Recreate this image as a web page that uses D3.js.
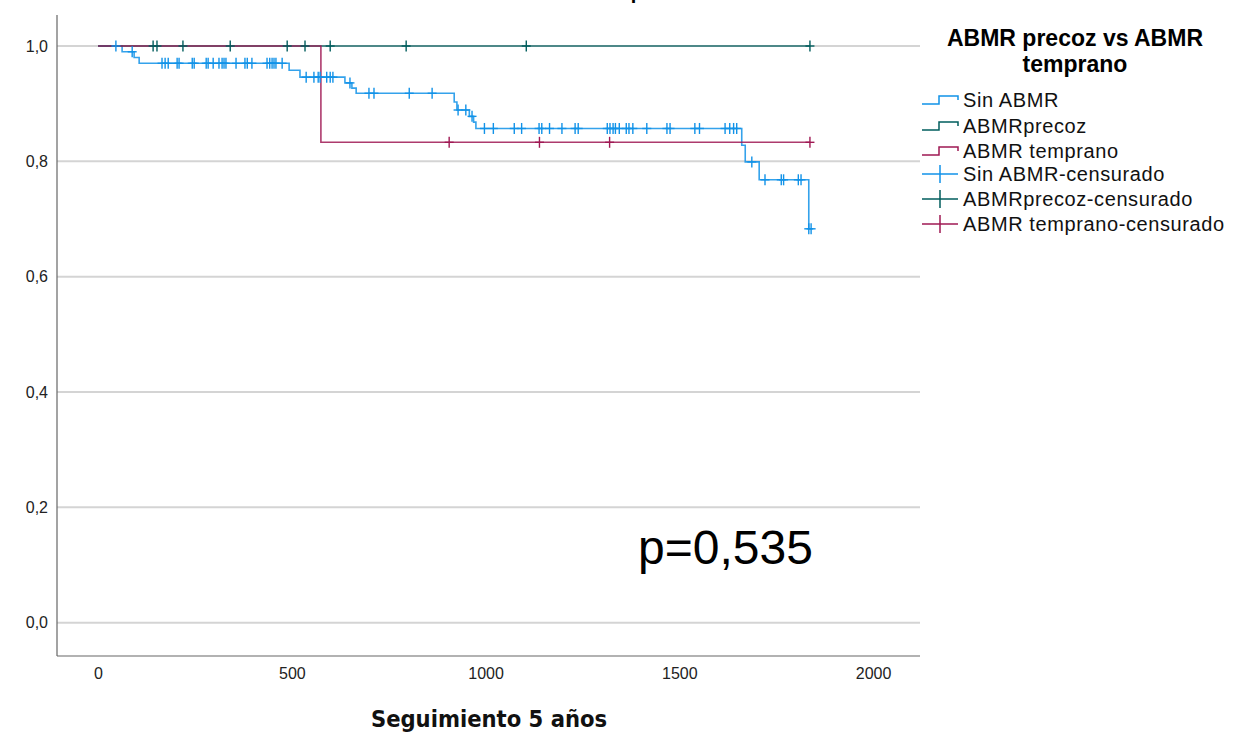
<!DOCTYPE html>
<html>
<head>
<meta charset="utf-8">
<script src="https://cdn.jsdelivr.net/npm/d3@7"></script>
<style>
  html, body { margin: 0; padding: 0; background: #fff; }
  svg { display: block; }
</style>
</head>
<body>
<svg id="chart" width="1253" height="735"></svg>
<script>
// ---------- DATA ----------
const groupNames = ["Sin ABMR", "ABMRprecoz", "ABMR temprano"];
const legendLabels = ["Sin ABMR", "ABMRprecoz", "ABMR temprano",
  "Sin ABMR-censurado", "ABMRprecoz-censurado", "ABMR temprano-censurado"];
const xTicks = [0, 500, 1000, 1500, 2000];
const yTicks = [0, 0.2, 0.4, 0.6, 0.8, 1.0];

// Sin ABMR
const sinEventDays = [62, 93, 106, 493, 521, 637, 655, 666, 919, 926, 958, 969, 975, 1661, 1670, 1706, 1834];
const sinEventSurv = [0.990, 0.980, 0.970, 0.958, 0.946, 0.936, 0.927, 0.918, 0.903, 0.889, 0.878, 0.868, 0.857, 0.828, 0.799, 0.768, 0.683];
const sinCensorDays = [46, 88, 165, 173, 181, 204, 209, 243, 248, 279, 284, 297, 312, 320, 325, 330, 356, 379, 385, 397,
  436, 443, 449, 454, 459, 475, 537, 557, 568, 573, 590, 599, 606, 650, 699, 712, 803, 862, 929, 949, 965,
  997, 1020, 1074, 1093, 1138, 1145, 1165, 1197, 1231, 1239, 1314, 1321, 1329, 1335, 1345, 1363, 1370, 1380,
  1416, 1468, 1476, 1540, 1552, 1618, 1630, 1640, 1648, 1687, 1721, 1763, 1769, 1807, 1814, 1834, 1840];

// ABMRprecoz
const precozEventDays = [];
const precozEventSurv = [];
const precozCensorDays = [142, 152, 219, 341, 488, 534, 599, 795, 1105, 1837];

// ABMR temprano
const tempEventDays = [575];
const tempEventSurv = [0.833];
const tempCensorDays = [906, 1139, 1320, 1837];

const pValueText = "p=0,535";
const xTitle = "Seguimiento 5 años";
const legendTitle = ["ABMR precoz vs ABMR", "temprano"];
const chartTitle = "Funciones de supervivencia";

// ---------- LAYOUT ----------
const colors = ["#1192e8", "#005d5d", "#9f1853"];
const svg = d3.select("#chart");
const plot = { left: 57, right: 920, top: 15, bottom: 656 };

const x = d3.scaleLinear().domain([-106, 2121]).range([plot.left, plot.right]);
const y = d3.scaleLinear().domain([0, 1]).range([622.7, 46]);

const condensed = "'DejaVu Sans Condensed', 'Liberation Sans Narrow', 'Roboto Condensed', 'DejaVu Sans', sans-serif";
const helv = "'Liberation Sans', Arial, Helvetica, sans-serif";

// title (cut off at top in the reference; only its lowest pixels show)
svg.append("text").attr("x", 607).attr("y", -1).attr("text-anchor", "middle")
  .attr("font-family", helv).attr("font-weight", "bold").attr("font-size", 20)
  .attr("fill", "#000").text(chartTitle);

// gridlines
svg.append("g").selectAll("line").data(yTicks).join("line")
  .attr("x1", plot.left).attr("x2", plot.right)
  .attr("y1", d => y(d)).attr("y2", d => y(d))
  .attr("stroke", "#d4d4d4").attr("stroke-width", 2);

// axes
const yAxis = d3.axisLeft(y).tickValues(yTicks).tickSize(0).tickPadding(9)
  .tickFormat(d => d3.format(".1f")(d).replace(".", ","));
const gy = svg.append("g").attr("transform", `translate(${plot.left},0)`).call(yAxis);
gy.select(".domain").remove();
gy.selectAll("text").attr("font-family", helv).attr("font-size", 16).attr("fill", "#222");

const xAxis = d3.axisBottom(x).tickValues(xTicks).tickSize(0).tickPadding(12).tickFormat(d3.format("d"));
const gx = svg.append("g").attr("transform", `translate(0,${plot.bottom})`).call(xAxis);
gx.select(".domain").remove();
gx.selectAll("text").attr("font-family", helv).attr("font-size", 16).attr("fill", "#222");

svg.append("line").attr("x1", plot.left).attr("x2", plot.left).attr("y1", plot.top).attr("y2", plot.bottom)
  .attr("stroke", "#666").attr("stroke-width", 1.2);
svg.append("line").attr("x1", plot.left).attr("x2", plot.right).attr("y1", plot.bottom).attr("y2", plot.bottom)
  .attr("stroke", "#666").attr("stroke-width", 1.2);

// KM curves
function kmPoints(evDays, evSurv, cDays) {
  const end = Math.max(0, ...evDays, ...cDays);
  const pts = [[0, 1]];
  let s = 1;
  evDays.forEach((d, i) => { pts.push([d, s]); s = evSurv[i]; pts.push([d, s]); });
  pts.push([end, s]);
  return pts;
}
function survAt(evDays, evSurv, d) {
  let s = 1;
  evDays.forEach((e, i) => { if (e <= d) s = evSurv[i]; });
  return s;
}
const groups = [
  { ev: sinEventDays, sv: sinEventSurv, c: sinCensorDays },
  { ev: precozEventDays, sv: precozEventSurv, c: precozCensorDays },
  { ev: tempEventDays, sv: tempEventSurv, c: tempCensorDays }
];
const line = d3.line().x(d => x(d[0])).y(d => y(d[1]));
groups.forEach((g, i) => {
  svg.append("path").datum(kmPoints(g.ev, g.sv, g.c)).attr("d", line)
    .attr("fill", "none").attr("stroke", colors[i]).attr("stroke-width", 1.6)
    .attr("stroke-opacity", 0.85);
});
groups.forEach((g, i) => {
  const cg = svg.append("g").attr("stroke", colors[i]).attr("stroke-width", 1.4);
  g.c.forEach(d => {
    const cx = x(d), cy = y(survAt(g.ev, g.sv, d));
    cg.append("line").attr("x1", cx).attr("x2", cx).attr("y1", cy - 5.5).attr("y2", cy + 5.5);
    cg.append("line").attr("x1", cx - 4.5).attr("x2", cx + 4.5).attr("y1", cy).attr("y2", cy);
  });
});

// p-value
svg.append("text").attr("x", 638).attr("y", 564).attr("font-family", helv)
  .attr("font-size", 48).attr("fill", "#000").text(pValueText);

// x title
svg.append("text").attr("x", 489).attr("y", 727).attr("text-anchor", "middle")
  .attr("font-family", condensed).attr("font-weight", "bold").attr("font-size", 23.5)
  .attr("fill", "#111").text(xTitle);

// legend
const lg = svg.append("g");
legendTitle.forEach((t, i) => {
  lg.append("text").attr("x", 1075).attr("y", 46 + i * 26).attr("text-anchor", "middle")
    .attr("font-family", helv).attr("font-weight", "bold").attr("font-size", 23)
    .attr("fill", "#000").text(t);
});
const legY = [100, 126, 151, 174, 199, 224];
legendLabels.forEach((lab, i) => {
  const cy = legY[i];
  const col = colors[i % 3];
  if (i < 3) {
    lg.append("path").attr("d", `M922,${cy + 4}H939V${cy - 4}H958V${cy}`)
      .attr("fill", "none").attr("stroke", col).attr("stroke-width", 1.5);
  } else {
    lg.append("line").attr("x1", 922).attr("x2", 958).attr("y1", cy).attr("y2", cy)
      .attr("stroke", col).attr("stroke-width", 1.5);
    lg.append("line").attr("x1", 940).attr("x2", 940).attr("y1", cy - 9).attr("y2", cy + 9)
      .attr("stroke", col).attr("stroke-width", 1.5);
  }
  lg.append("text").attr("x", 963).attr("y", cy + 7).attr("font-family", helv)
    .attr("font-size", 20).attr("letter-spacing", 0.6).attr("fill", "#111").text(lab);
});
</script>
</body>
</html>
